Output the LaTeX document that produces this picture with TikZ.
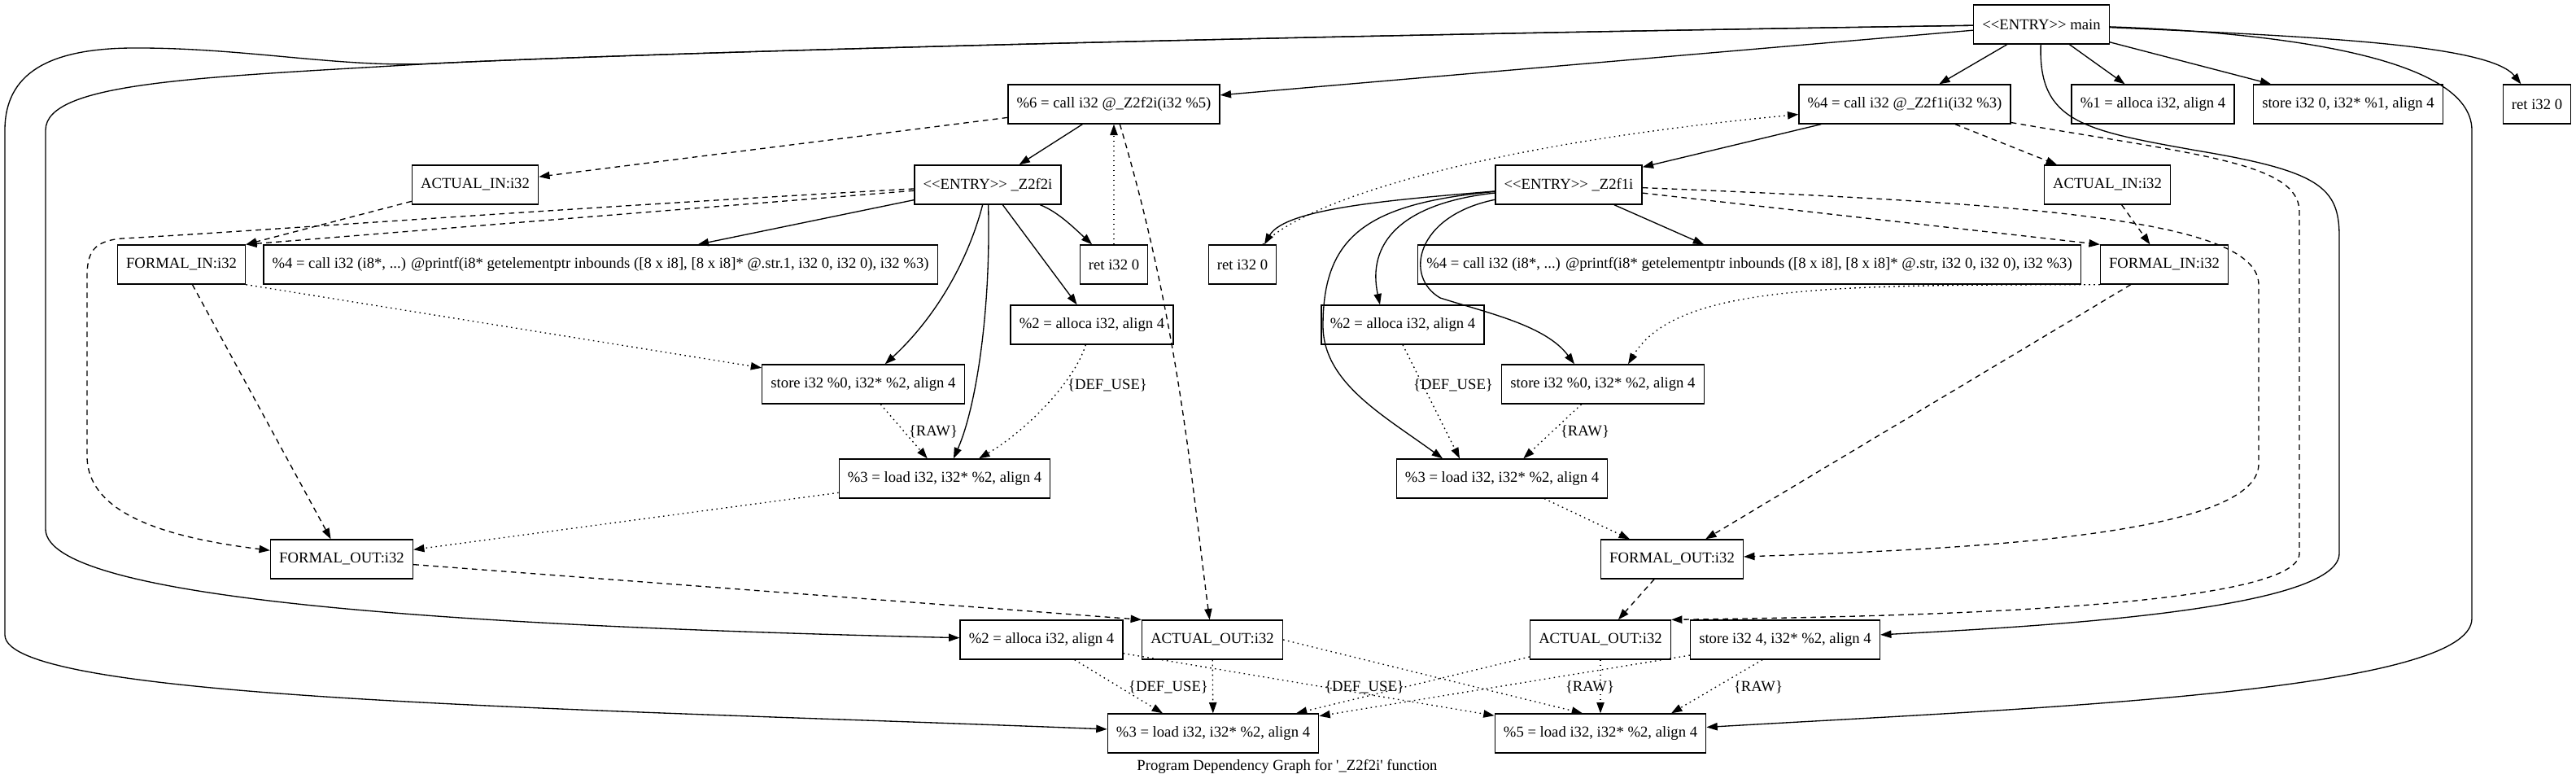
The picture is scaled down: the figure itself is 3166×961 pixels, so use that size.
\documentclass[tikz,border=0pt]{standalone}
\usepackage{fontspec}
\newfontfamily\pdgfont{Liberation Serif}
\usepackage{tikz}
\usetikzlibrary{arrows.meta,calc}

\begin{document}
\begin{tikzpicture}[x=0.75pt,y=-0.75pt,
    box/.style={draw,line width=1pt,rectangle,minimum height=36pt,minimum width=54pt,
      inner xsep=8pt,inner ysep=2pt,font=\pdgfont\fontsize{14pt}{16pt}\selectfont},
    lbl/.style={inner sep=0pt,font=\pdgfont\fontsize{14pt}{16pt}\selectfont},
    pdgline/.style={line width=1pt,-{Triangle[length=10pt,width=7pt]}},
    ctrl/.style={pdgline},
    dep/.style={pdgline,dash pattern=on 5pt off 4pt},
    flow/.style={pdgline,dash pattern=on 1.2pt off 3.3pt}]

    \fill[white] (0,0) rectangle (3166,961);

    % main
    \node[box] (main) at (2509,30) {<<ENTRY>> main};
    \node[box] (callf2) at (1369,128) {\%6 = call i32 @\_Z2f2i(i32 \%5)};
    \node[box] (callf1) at (2341,128) {\%4 = call i32 @\_Z2f1i(i32 \%3)};
    \node[box] (alloca1) at (2646,128) {\%1 = alloca i32, align 4};
    \node[box] (store0) at (2886,128) {store i32 0, i32* \%1, align 4};
    \node[box] (retmain) at (3118,128) {ret i32 0};
    \node[box] (allocamain) at (1280,786) {\%2 = alloca i32, align 4};
    \node[box] (store4) at (2194,786) {store i32 4, i32* \%2, align 4};
    \node[box] (load3) at (1491,901) {\%3 = load i32, i32* \%2, align 4};
    \node[box] (load5) at (1967,901) {\%5 = load i32, i32* \%2, align 4};

    % _Z2f2i
    \node[box] (ain2) at (584,227) {ACTUAL\_IN:i32};
    \node[box] (entryf2) at (1214,227) {<<ENTRY>> \_Z2f2i};
    \node[box] (fin2) at (223,325) {FORMAL\_IN:i32};
    \node[box] (printf2) at (738,325) {\%4 = call i32 (i8*, ...) @printf(i8* getelementptr inbounds ([8 x i8], [8 x i8]* @.str.1, i32 0, i32 0), i32 \%3)};
    \node[box] (ret2) at (1369,325) {ret i32 0};
    \node[box] (alloca2) at (1342,399) {\%2 = alloca i32, align 4};
    \node[box] (store2) at (1061,472) {store i32 \%0, i32* \%2, align 4};
    \node[box] (load2) at (1161,588) {\%3 = load i32, i32* \%2, align 4};
    \node[box] (fout2) at (420,687) {FORMAL\_OUT:i32};
    \node[box] (aout2) at (1490,786) {ACTUAL\_OUT:i32};

    % _Z2f1i
    \node[box] (entryf1) at (1928,227) {<<ENTRY>> \_Z2f1i};
    \node[box] (ain1) at (2590,227) {ACTUAL\_IN:i32};
    \node[box] (ret1) at (1527,325) {ret i32 0};
    \node[box] (printf1) at (2150,325) {\%4 = call i32 (i8*, ...) @printf(i8* getelementptr inbounds ([8 x i8], [8 x i8]* @.str, i32 0, i32 0), i32 \%3)};
    \node[box] (fin1) at (2660,325) {FORMAL\_IN:i32};
    \node[box] (alloca1f) at (1724,399) {\%2 = alloca i32, align 4};
    \node[box] (store1) at (1970,472) {store i32 \%0, i32* \%2, align 4};
    \node[box] (load1) at (1846,588) {\%3 = load i32, i32* \%2, align 4};
    \node[box] (fout1) at (2055,687) {FORMAL\_OUT:i32};
    \node[box] (aout1) at (1967,786) {ACTUAL\_OUT:i32};

    % edge labels
    \node[lbl] (rawf2) at (1147,530) {\{RAW\}};
    \node[lbl] (deff2) at (1361,473) {\{DEF\_USE\}};
    \node[lbl] (deff1) at (1786,473) {\{DEF\_USE\}};
    \node[lbl] (rawf1) at (1948,530) {\{RAW\}};
    \node[lbl] (defa) at (1436,844) {\{DEF\_USE\}};
    \node[lbl] (defb) at (1677,844) {\{DEF\_USE\}};
    \node[lbl] (rawa) at (1954,844) {\{RAW\}};
    \node[lbl] (rawb) at (2161,844) {\{RAW\}};
    \node[lbl] (caption) at (1582,942) {Program Dependency Graph for '\_Z2f2i' function};

    % control edges of main
    \draw[ctrl] (main) -- (callf2);
    \draw[ctrl] (main) -- (callf1);
    \draw[ctrl] (main) -- (alloca1);
    \draw[ctrl] (main) -- (store0);
    \draw[ctrl] (main) .. controls (2850,45) and (3060,55) .. (retmain);
    \draw[ctrl] (main) .. controls (1500,45) and (800,65) .. (533,78)
      .. controls (250,95) and (56,100) .. (56,160) -- (56,650)
      .. controls (56,740) and (600,770) .. (allocamain);
    \draw[ctrl] (main) .. controls (1500,45) and (800,65) .. (533,78)
      .. controls (420,84) and (300,58) .. (161,59)
      .. controls (60,60) and (6,90) .. (6,160) -- (6,780)
      .. controls (6,860) and (700,870) .. (load3);
    \draw[ctrl] (main) .. controls (2505,150) and (2560,160) .. (2700,185)
      .. controls (2850,210) and (2875,230) .. (2875,290) -- (2875,680)
      .. controls (2875,750) and (2500,770) .. (store4);
    \draw[ctrl] (main) .. controls (2800,40) and (3038,70) .. (3038,160) -- (3038,760)
      .. controls (3038,850) and (2500,870) .. (load5);

    % call of _Z2f2i
    \draw[ctrl] (callf2) -- (entryf2);
    \draw[dep] (callf2) -- (ain2);
    \draw[dep] (callf2) .. controls (1450,400) and (1465,600) .. (aout2);
    \draw[flow] (ret2) -- (callf2);

    % body of _Z2f2i
    \draw[ctrl] (entryf2) -- (printf2);
    \draw[ctrl] (entryf2) .. controls (1300,260) and (1320,280) .. (ret2);
    \draw[ctrl] (entryf2) -- (alloca2);
    \draw[ctrl] (entryf2) .. controls (1190,320) and (1150,390) .. (store2);
    \draw[ctrl] (entryf2) .. controls (1218,380) and (1200,500) .. (load2);
    \draw[dep] (entryf2) -- (fin2.north east);
    \draw[dep] (entryf2) .. controls (700,255) and (300,285) .. (150,293)
      .. controls (115,296) and (107,310) .. (107,340) -- (107,560)
      .. controls (107,630) and (200,660) .. (fout2);
    \draw[dep] (ain2) -- (fin2.north east);
    \draw[dep] (fin2) -- (fout2);
    \draw[flow] (fin2.south east) -- (store2);
    \draw[flow] (store2) -- (load2);
    \draw[flow] (alloca2) .. controls (1320,470) and (1260,530) .. (load2);
    \draw[flow] (load2) -- (fout2);
    \draw[dep] (fout2) -- (aout2.north west);

    % data edges in main
    \draw[flow] (aout2) -- (load3);
    \draw[flow] (aout2.east) -- ($(load5.north)+(-22,0)$);
    \draw[flow] (allocamain) -- ($(load3.north)+(-62,0)$);
    \draw[flow] (allocamain) -- (load5);
    \draw[flow] (aout1) -- (load3);
    \draw[flow] (aout1) -- (load5);
    \draw[flow] (store4) -- (load3);
    \draw[flow] ($(store4.south)+(-28,0)$) -- ($(load5.north)+(87,0)$);

    % call of _Z2f1i
    \draw[ctrl] (callf1) -- (entryf1);
    \draw[dep] (callf1) -- (ain1);
    \draw[dep] (callf1) .. controls (2700,190) and (2826,200) .. (2826,260) -- (2826,680)
      .. controls (2826,750) and (2300,758) .. (aout1.north east);
    \draw[flow] ($(ret1.north)+(25,0)$) .. controls (1600,250) and (1800,180) .. (callf1);

    % body of _Z2f1i
    \draw[ctrl] (entryf1) .. controls (1720,245) and (1580,255) .. ($(ret1.north)+(27,0)$);
    \draw[ctrl] (entryf1) -- (printf1);
    \draw[ctrl] (entryf1) .. controls (1720,250) and (1680,300) .. ($(alloca1f.north)+(-28,0)$);
    \draw[ctrl] (entryf1) .. controls (1740,265) and (1725,340) .. (1770,366)
      .. controls (1830,385) and (1900,400) .. ($(store1.north)+(-35,0)$);
    \draw[ctrl] (entryf1) .. controls (1680,250) and (1626,290) .. (1626,400)
      .. controls (1626,470) and (1700,510) .. ($(load1.north)+(-73,0)$);
    \draw[dep] (entryf1) -- (fin1.north west);
    \draw[dep] (entryf1) .. controls (2500,250) and (2776,270) .. (2776,350) -- (2776,570)
      .. controls (2776,660) and (2400,675) .. (fout1);
    \draw[dep] (ain1) -- (fin1);
    \draw[dep] (fin1) -- (fout1);
    \draw[flow] (fin1.south west) .. controls (2250,350) and (2060,350) .. ($(store1.north)+(31,0)$);
    \draw[flow] (alloca1f.south) -- ($(load1.north)+(-52,0)$);
    \draw[flow] (store1) -- (load1);
    \draw[flow] (load1) -- (fout1);
    \draw[dep] (fout1) -- (aout1);
\end{tikzpicture}
\end{document}
